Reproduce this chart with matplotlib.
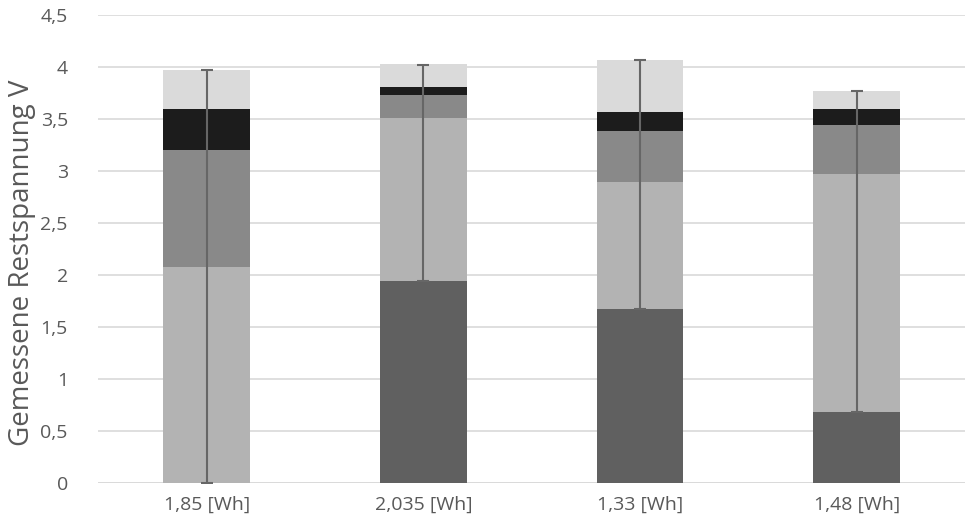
import numpy as np
import matplotlib.pyplot as plt

plt.rcParams["font.family"] = ["Open Sans", "DejaVu Sans"]

categories = ["1,85 [Wh]", "2,035 [Wh]", "1,33 [Wh]", "1,48 [Wh]"]

# segment heights, bottom to top
seg_dark = [0.0, 1.94, 1.67, 0.68]
seg_light = [2.08, 1.57, 1.22, 2.29]
seg_mid = [1.12, 0.22, 0.49, 0.47]
seg_black = [0.39, 0.08, 0.19, 0.15]
seg_pale = [0.38, 0.22, 0.50, 0.18]

# upper ends of the error whiskers
err_top = [3.97, 4.02, 4.07, 3.77]

segments = [
    (seg_dark, "#606060"),
    (seg_light, "#b3b3b3"),
    (seg_mid, "#898989"),
    (seg_black, "#1c1c1c"),
    (seg_pale, "#dadada"),
]

fig, ax = plt.subplots(figsize=(9.65, 5.28), dpi=100)
fig.subplots_adjust(left=0.102, right=1.0, top=0.972, bottom=0.085)

x = np.arange(len(categories))
bottom = np.zeros(len(categories))
for vals, color in segments:
    ax.bar(x, vals, width=0.4, bottom=bottom, color=color, zorder=2)
    bottom += np.array(vals)

dark = np.array(seg_dark)
ax.errorbar(x, dark, yerr=[np.zeros(len(x)), np.array(err_top) - dark],
            fmt="none", ecolor="#666666", elinewidth=1.5, capsize=4,
            capthick=1.5, zorder=3)

ax.set_ylim(0, 4.5)
ax.set_xlim(-0.5, len(categories) - 0.5)
yt = np.arange(0, 4.51, 0.5)
ax.set_yticks(yt)
ax.set_yticklabels([f"{v:g}".replace(".", ",") for v in yt])
ax.set_xticks(x)
ax.set_xticklabels(categories)
ax.tick_params(length=0, labelsize=14, colors="#595959", pad=9)
ax.tick_params(axis="y", pad=22)
ax.grid(axis="y", color="#d9d9d9", linewidth=1.2, zorder=0)
for s in ax.spines.values():
    s.set_visible(False)
ax.axhline(0, color="#d9d9d9", linewidth=1.2, zorder=1)

ax.set_ylabel("Gemessene Restspannung V", fontsize=20, color="#595959")
ax.yaxis.set_label_coords(-0.072, 0.47)

fig.savefig("out.png", dpi=100)
